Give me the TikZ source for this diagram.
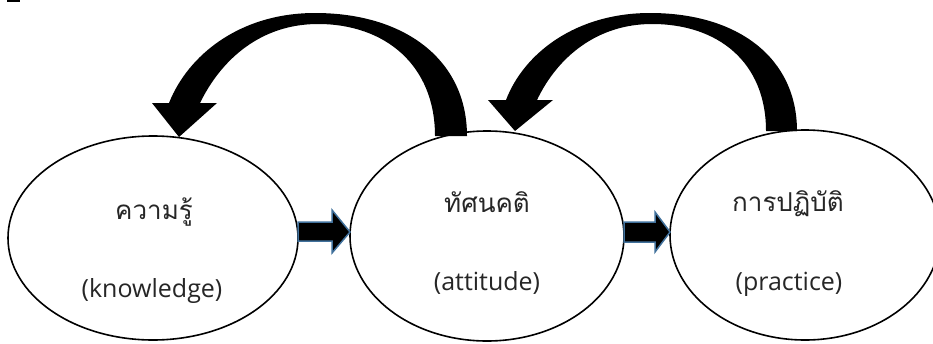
\documentclass[tikz,border=0pt]{standalone}
\usepackage{fontspec}
\setmainfont{Open Sans}
\newfontfamily\thaifont[Script=Thai]{Loma}
\usetikzlibrary{shapes.geometric}
\definecolor{arrowedge}{HTML}{41719C}
\definecolor{txt}{HTML}{262626}
\begin{document}
\begin{tikzpicture}[x=1pt,y=-1pt,
  bubble/.style={draw=black, line width=1.6pt, fill=white, ellipse, inner sep=0pt, outer sep=0pt},
  thailabel/.style={anchor=base, font=\thaifont\fontsize{26}{30}\selectfont, text=txt, inner sep=0pt},
  englabel/.style={anchor=base, font=\fontsize{25}{30}\selectfont, text=txt, inner sep=0pt},
  blockarrow/.style={fill=black, draw=arrowedge, line width=1.5pt, line join=miter},
  bigarrow/.style={fill=black, draw=none}]
\useasboundingbox (0,0) rectangle (933,343);
\clip (0,0) rectangle (933,343);
\fill[black] (7,0) rectangle (20,2);

% ellipses
\node[bubble, minimum width=290pt, minimum height=204pt] (know) at (153,238) {};
\node[bubble, minimum width=274pt, minimum height=210pt] (att) at (487,236) {};
\node[bubble, minimum width=270pt, minimum height=210pt] (prac) at (805,235) {};

% labels
\node[thailabel] (knowT) at (154,219) {ความรู้};
\node[englabel] (knowE) at (152,297) {(knowledge)};
\node[thailabel] (attT) at (487,212) {ทัศนคติ};
\node[englabel] (attE) at (487,290) {(attitude)};
\node[thailabel] (pracT) at (788,211) {การปฏิบัติ};
\node[englabel] (pracE) at (789,290) {(practice)};

% straight block arrows
\draw[blockarrow] (know.east |- 0,222) -- (332,222) -- (332,210) -- (att.west |- 0,232)
  -- (332,253) -- (332,241) -- (know.east |- 0,241) -- cycle;
\draw[blockarrow] (att.east |- 0,222) -- (655,222) -- (655,212) -- (prac.west |- 0,232)
  -- (655,252) -- (655,242) -- (att.east |- 0,242) -- cycle;

% curved arrow: attitude -> knowledge
\path[bigarrow] (467,136) .. controls (467,60) and (405,13) .. (315,13)
  .. controls (240,13) and (188,55) .. (169,103)
  -- (152,103) -- (179,137) -- (217,103) -- (200,103)
  .. controls (222,58) and (262,24) .. (318,24)
  .. controls (385,24) and (435,65) .. (435,136) -- cycle;

% curved arrow: practice -> attitude
\path[bigarrow] (797,131) .. controls (797,58) and (738,13) .. (650,13)
  .. controls (576,13) and (524,53) .. (506,100)
  -- (488,100) -- (515,131) -- (553,100) -- (537,100)
  .. controls (558,56) and (598,24) .. (652,24)
  .. controls (718,24) and (766,62) .. (766,131) -- cycle;
\end{tikzpicture}
\end{document}
